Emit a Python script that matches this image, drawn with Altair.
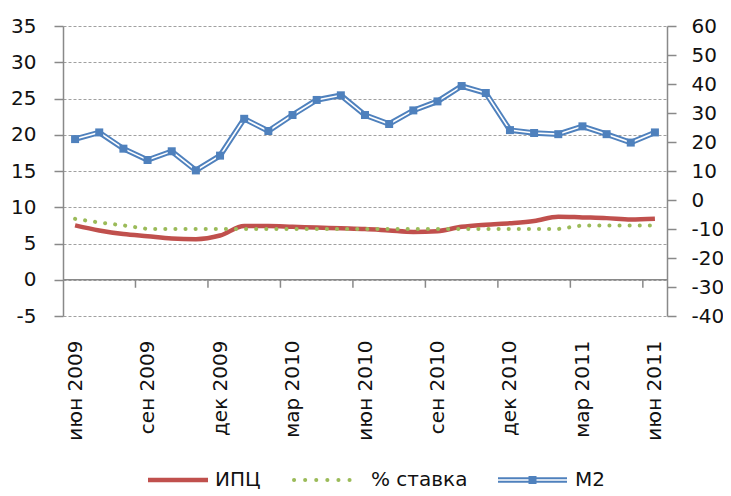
import altair as alt
import pandas as pd

# ---------------- data ----------------
months = ["июн 2009", "июл 2009", "авг 2009", "сен 2009", "окт 2009", "ноя 2009",
          "дек 2009", "янв 2010", "фев 2010", "мар 2010", "апр 2010", "май 2010",
          "июн 2010", "июл 2010", "авг 2010", "сен 2010", "окт 2010", "ноя 2010",
          "дек 2010", "янв 2011", "фев 2011", "мар 2011", "апр 2011", "май 2011",
          "июн 2011"]
names = ["ИПЦ", "% ставка", "M2"]
ipc = [7.5, 6.8, 6.3, 6.0, 5.7, 5.6, 6.1, 7.4, 7.4, 7.3, 7.2, 7.1, 7.0,
       6.8, 6.6, 6.7, 7.3, 7.6, 7.8, 8.1, 8.7, 8.6, 8.5, 8.3, 8.4]
rate = [8.4, 7.9, 7.5, 7.0, 7.0, 7.0, 7.0, 7.0, 7.0, 7.0, 7.0, 7.0, 7.0,
        7.0, 7.0, 7.0, 7.0, 7.0, 7.0, 7.0, 7.0, 7.5, 7.5, 7.5, 7.5]
m2 = [21.0, 23.3, 17.7, 13.8, 16.8, 10.2, 15.3, 28.0, 23.8, 29.3, 34.5, 36.1, 29.3,
      26.2, 30.9, 34.0, 39.3, 36.9, 24.1, 23.1, 22.7, 25.4, 22.7, 19.8, 23.3]
left_ticks = [-5, 0, 5, 10, 15, 20, 25, 30, 35]
right_ticks = [-40, -30, -20, -10, 0, 10, 20, 30, 40, 50, 60]
x_label_idx = list(range(0, len(months), 3))
x_tick_pos = [2.5, 5.5, 8.5, 11.5, 14.5, 17.5, 20.5, 23.5]

df = pd.DataFrame({"i": list(range(len(months))), "ipc": ipc, "rate": rate, "m2": m2})
tick_df = pd.DataFrame({"t": x_tick_pos, "z": [0] * len(x_tick_pos)})
zero_df = pd.DataFrame({"z": [0]})

# ---------------- styles ----------------
FONT = "DejaVu Sans"
TXT = "#111111"
GRAY = "#898989"
RED = "#C0504D"
GREEN = "#9BBB59"
BLUE = "#4F81BD"

label_expr = "[" + ", ".join("'" + m + "'" for m in months) + "][datum.value]"
num_expr = "'' + datum.value"  # plain hyphen-minus, as in the reference

x_scale = alt.Scale(domain=[-0.5, len(months) - 0.5], nice=False, zero=False)
x_axis = alt.Axis(values=x_label_idx, labelExpr=label_expr, labelAngle=270,
                  domain=False, ticks=False, grid=False, labelPadding=24,
                  labelFont=FONT, labelFontSize=20, labelColor=TXT, title=None,
                  labelOverlap=False, labelFlush=False)


def X(field):
    return alt.X(field, type="quantitative", scale=x_scale, axis=x_axis)


yl_scale = alt.Scale(domain=[-5, 35], nice=False, zero=False)
yl_axis = alt.Axis(values=left_ticks, labelExpr=num_expr, title=None, grid=True,
                   gridColor="#a0a0a0", gridDash=[3, 2], gridWidth=1,
                   domainColor=GRAY, domainWidth=1.5, tickColor=GRAY, tickWidth=1.5,
                   tickSize=9, labelPadding=18, labelFont=FONT, labelFontSize=20,
                   labelColor=TXT, labelFlush=False, labelOverlap=False)


def YL(field):
    return alt.Y(field, type="quantitative", scale=yl_scale, axis=yl_axis)


yr_scale = alt.Scale(domain=[-40, 60], nice=False, zero=False)
yr_axis = alt.Axis(orient="right", values=right_ticks, labelExpr=num_expr, title=None,
                   grid=False, domainColor=GRAY, domainWidth=1.5, tickColor=GRAY,
                   tickWidth=1.5, tickSize=9, labelPadding=15, labelFont=FONT,
                   labelFontSize=20, labelColor=TXT, labelFlush=False, labelOverlap=False)


def YR(field):
    return alt.Y(field, type="quantitative", scale=yr_scale, axis=yr_axis)


# ---------------- left-axis layers ----------------
zero_rule = alt.Chart(zero_df).mark_rule(color=GRAY, strokeWidth=1.5).encode(y=YL("z"))
x_ticks = alt.Chart(tick_df).mark_rule(color=GRAY, strokeWidth=1.5, y2Offset=8).encode(
    x=X("t"), y=YL("z"), y2="z")
ipc_line = alt.Chart(df).mark_line(color=RED, strokeWidth=4.5, interpolate="monotone").encode(
    x=X("i"), y=YL("ipc"))
rate_line = alt.Chart(df).mark_line(color=GREEN, strokeWidth=4, strokeDash=[0.1, 10],
                                    strokeCap="round").encode(x=X("i"), y=YL("rate"))

# ---------------- legend (drawn below the plot) ----------------
LY = 454


def leg_text(k, x):
    return alt.Chart(pd.DataFrame({"name": [names[k]]})).mark_text(
        align="left", baseline="middle", font=FONT, fontSize=20, color=TXT).encode(
        x=alt.value(x), y=alt.value(LY), text="name:N")


def leg_rule(k, x0, x1, **kw):
    return alt.Chart(pd.DataFrame({"name": [names[k]]})).mark_rule(**kw).encode(
        x=alt.value(x0), x2=alt.value(x1), y=alt.value(LY))


legend_layers = [
    leg_rule(0, 85, 145, color=RED, strokeWidth=4.5),
    leg_text(0, 152),
    leg_rule(1, 231, 297, color=GREEN, strokeWidth=4, strokeDash=[0.1, 11], strokeCap="round"),
    leg_text(1, 308),
    leg_rule(2, 435, 504, color=BLUE, strokeWidth=5.5),
    leg_rule(2, 435, 504, color="white", strokeWidth=1.6),
    alt.Chart(pd.DataFrame({"name": [names[2]]})).mark_square(
        size=64, color=BLUE, opacity=1).encode(x=alt.value(469.5), y=alt.value(LY)),
    leg_text(2, 512),
]

left = alt.layer(zero_rule, x_ticks, ipc_line, rate_line, *legend_layers)

# ---------------- right-axis layers (M2) ----------------
m2_outer = alt.Chart(df).mark_line(color=BLUE, strokeWidth=5.5).encode(x=X("i"), y=YR("m2"))
m2_inner = alt.Chart(df).mark_line(color="white", strokeWidth=1.6).encode(x=X("i"), y=YR("m2"))
m2_pts = alt.Chart(df).mark_square(size=64, color=BLUE, opacity=1).encode(x=X("i"), y=YR("m2"))
right = alt.layer(m2_outer, m2_inner, m2_pts)

chart = alt.layer(left, right).resolve_scale(y="independent").properties(
    width=604, height=290,
    autosize=alt.AutoSizeParams(type="none"),
    padding={"left": 55, "top": 18, "right": 56, "bottom": 180},
    background="white",
).configure_view(stroke=None)

chart.save("out.html", embed_options={"renderer": "svg", "actions": False})
